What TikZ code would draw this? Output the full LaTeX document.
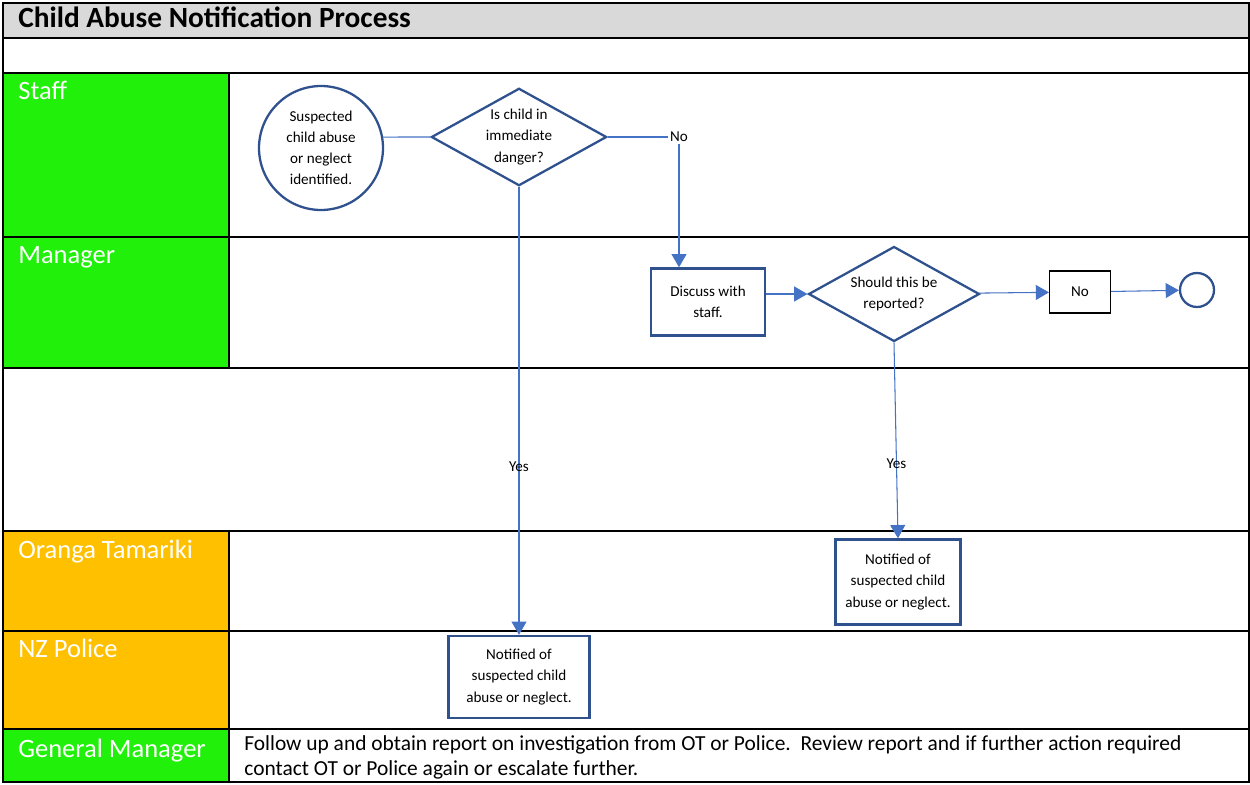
\documentclass[tikz,border=0pt]{standalone}
\usepackage{fontspec}
\setmainfont{Carlito}
\usepackage{tikz}
\usetikzlibrary{arrows.meta, shapes.geometric}
\usepackage{xcolor}
\definecolor{lanegreen}{RGB}{32, 240, 10}
\definecolor{laneorange}{RGB}{255, 192, 0}
\definecolor{titlegray}{RGB}{217, 217, 217}
\definecolor{nodeblue}{RGB}{47, 82, 143}
\definecolor{flowblue}{RGB}{68, 114, 196}

\begin{document}
\begin{tikzpicture}[x=0.02cm, y=-0.02cm, >={Triangle[length=7.5pt, width=8.5pt]},
  rule/.style={line width=1.3pt},
  lanelabel/.style={anchor=base west, inner sep=0pt, text=white, font=\fontsize{15.1}{18}\selectfont},
  flowtext/.style={font=\fontsize{8.6}{12}\selectfont, align=center, inner sep=1pt, text=black},
  procbox/.style={flowtext, draw=nodeblue, line width=1.4pt},
  decision/.style={flowtext, diamond, draw=nodeblue, line width=1.3pt, aspect=1.8},
  flow/.style={flowblue, line width=0.6pt}]

  \useasboundingbox (0,0) rectangle (1250,784);

  % ---------- Lanes ----------
  \fill[titlegray] (3,3) rectangle (1249,38);
  \fill[lanegreen] (3,73) rectangle (229,368);
  \fill[laneorange] (3,531) rectangle (229,729);
  \fill[lanegreen] (3,729) rectangle (229,782);
  \foreach \y in {38,73,237,368,531,631,729}
    \draw[rule] (3,\y) -- (1249,\y);
  \draw[rule] (229,73) -- (229,368);
  \draw[rule] (229,531) -- (229,782);
  \draw[rule] (3,3) rectangle (1249,782);

  \node[anchor=base west, inner sep=0pt, font=\fontsize{16.7}{20}\selectfont\bfseries] (title) at (18,28) {Child Abuse Notification Process};
  \node[lanelabel] (staff) at (18,99) {Staff};
  \node[lanelabel] (manager) at (18,263) {Manager};
  \node[lanelabel] (oranga) at (18,558) {Oranga Tamariki};
  \node[lanelabel] (police) at (18,657) {NZ Police};
  \node[lanelabel] (general) at (18,757) {General Manager};
  \node[anchor=west, align=left, inner sep=0pt, font=\fontsize{12.2}{14.5}\selectfont] (followup) at (244,757.5)
    {Follow up and obtain report on investigation from OT or Police.\ \ Review report and if further action required\\
     contact OT or Police again or escalate further.};

  % ---------- Flow nodes ----------
  \node[flowtext, circle, draw=nodeblue, line width=1.3pt, minimum size=2.48cm] (suspect) at (321,148)
    {Suspected\\child abuse\\or neglect\\identified.};
  \node[decision, minimum width=3.46cm, minimum height=1.92cm] (danger) at (519,137) {Is child in\\immediate\\danger?};
  \node[flowtext] (nostaff) at (679,137) {No};
  \node[procbox, minimum width=2.28cm, minimum height=1.34cm] (discuss) at (708,302) {Discuss with\\staff.};
  \node[decision, minimum width=3.42cm, minimum height=1.9cm] (report) at (894,294) {Should this be\\reported?};
  \node[flowtext, draw=black, line width=0.6pt, minimum width=1.22cm, minimum height=0.84cm] (nobox) at (1080,292) {No};
  \node[circle, draw=nodeblue, line width=1.3pt, minimum size=0.68cm] (finish) at (1197,290) {};
  \node[procbox, minimum width=2.5cm, minimum height=1.7cm] (otnote) at (898,582)
    {Notified of\\suspected child\\abuse or neglect.};
  \node[procbox, minimum width=2.82cm, minimum height=1.64cm] (policenote) at (519,677)
    {Notified of\\suspected child\\abuse or neglect.};

  % ---------- Connectors ----------
  \draw[flow] (suspect.10) -- (danger.west);
  \draw[flow] (danger.east) -- (nostaff.west);
  \draw[flow, ->] (nostaff.south) -- (nostaff.south |- discuss.north);
  \draw[flow, ->] (discuss.east |- report.west) -- (report.west);
  \draw[flow, ->] (report) -- (nobox);
  \draw[flow, ->] (nobox) -- (finish);
  \draw[flow, ->] (danger.south) -- node[flowtext, pos=0.625] {Yes} (policenote.north);
  \draw[flow, ->] (report.south) -- node[flowtext, pos=0.62] {Yes} (otnote.north);

\end{tikzpicture}
\end{document}
